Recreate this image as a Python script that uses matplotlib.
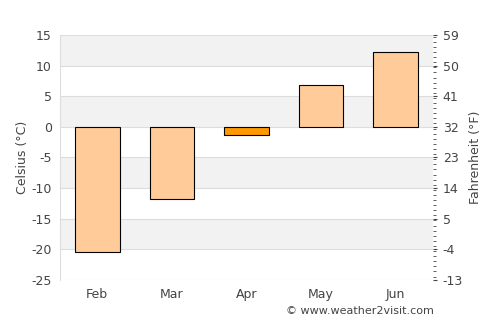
import matplotlib
matplotlib.use("Agg")
import matplotlib.pyplot as plt
from matplotlib.ticker import MultipleLocator

plt.rcParams["axes.unicode_minus"] = False

months = ["Feb", "Mar", "Apr", "May", "Jun"]
temps_c = [-20.5, -11.8, -1.3, 6.8, 12.2]
bar_colors = ["#FFCC99", "#FFCC99", "#FF9900", "#FFCC99", "#FFCC99"]
c_ticks = [15, 10, 5, 0, -5, -10, -15, -20, -25]
f_ticks = [59, 50, 41, 32, 23, 14, 5, -4, -13]

txt = "#444444"
fig = plt.figure(figsize=(5, 3.25), dpi=100)
ax = fig.add_axes([0.12, 0.1385, 0.746, 0.7538])

# alternating bands
for lo in range(-25, 15, 5):
    if (lo // 5) % 2 == 0:
        ax.axhspan(lo, lo + 5, color="#F2F2F2", zorder=0, lw=0)
for t in c_ticks:
    ax.axhline(t, color="#DDDDDD", lw=0.8, zorder=1)

x = range(len(months))
ax.bar(x, temps_c, width=0.6, color=bar_colors, edgecolor="black", lw=0.8, zorder=3)

ax.set_xlim(-0.5, 4.5)
ax.set_ylim(-25, 15)
ax.set_yticks(c_ticks)
ax.set_xticks(list(x))
ax.set_xticklabels(months)
ax.tick_params(axis="both", length=0, colors=txt, labelsize=9, pad=6)
ax.set_ylabel("Celsius (°C)", color=txt, fontsize=9, labelpad=2)
for s in ["top", "right", "bottom"]:
    ax.spines[s].set_visible(False)
ax.spines["left"].set_color("#DDDDDD")

ax2 = ax.twinx()
ax2.set_ylim(-13, 59)
ax2.set_yticks(f_ticks)
ax2.yaxis.set_minor_locator(MultipleLocator(1.5))
ax2.tick_params(axis="y", which="major", length=3, colors=txt, labelsize=9, pad=4)
ax2.tick_params(axis="y", which="minor", length=2, color=txt)
ax2.set_ylabel("Fahrenheit (°F)", color=txt, fontsize=9)
for s in ax2.spines.values():
    s.set_visible(False)

fig.text(0.72, 0.035, "© www.weather2visit.com", color=txt, fontsize=8, ha="center")
fig.savefig("out.png", dpi=100)
